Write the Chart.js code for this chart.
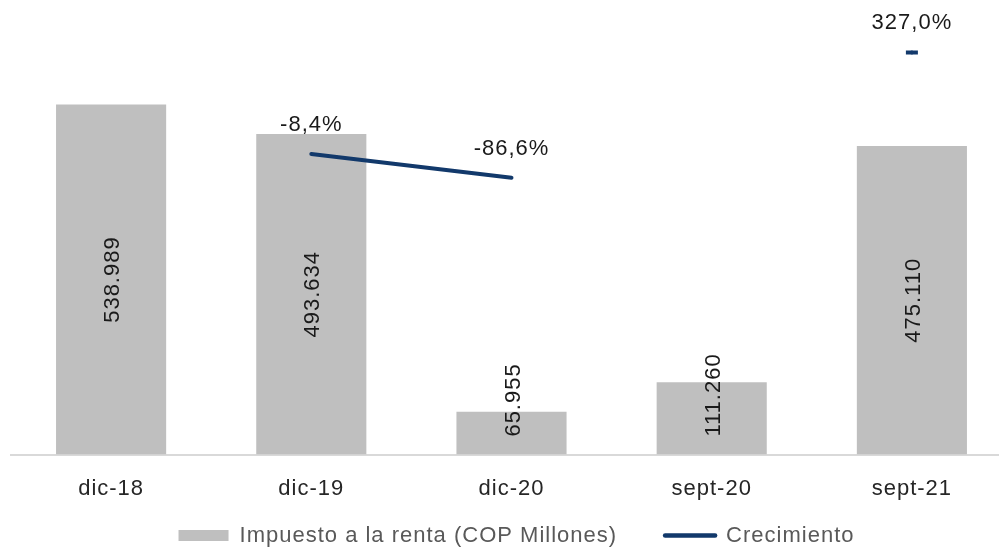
<!DOCTYPE html>
<html>
<head>
<meta charset="utf-8">
<script src="https://cdn.jsdelivr.net/npm/chart.js@4"></script>
<style>
  html, body { margin: 0; padding: 0; background: #fff; overflow: hidden; }
  #wrap { width: 1012px; height: 548px; }
  #chart { display: block; }
</style>
</head>
<body>
<div id="wrap"><canvas id="chart" width="1012" height="548"></canvas></div>
<script>
// periods and series
const periods = ["dic-18", "dic-19", "dic-20", "sept-20", "sept-21"];
const impuesto = [538989, 493634, 65955, 111260, 475110];
const crecimiento = [null, -8.4, -86.6, null, 327.0];
const seriesNames = ["Impuesto a la renta (COP Millones)", "Crecimiento"];

const barColor = "#bfbfbf";
const lineColor = "#12396b";
const fontFamily = "'Liberation Sans', Arial, sans-serif";

// number formats with dot for thousands and comma for decimals
function fmtMiles(v) {
  return String(v).replace(/\B(?=(\d{3})+(?!\d))/g, ".");
}
function fmtPct(v) {
  return v.toFixed(1).replace(".", ",") + "%";
}

// a bit of letter spacing on every text drawn on the canvas
const spacingPlugin = {
  id: "spacing",
  beforeLayout(chart) { chart.ctx.letterSpacing = "1px"; },
  beforeDraw(chart) { chart.ctx.letterSpacing = "1px"; },
  // legend sits closer to the axis labels than its item padding would put it
  afterLayout(chart) {
    const lg = chart.legend;
    const h = lg.bottom - lg.top;
    lg.top = chart.chartArea.bottom + 22;
    lg.bottom = lg.top + h;
    lg.left += 5;
    lg.right += 5;
  }
};

// value labels: rotated inside the bars, above the growth points
const labelsPlugin = {
  id: "valueLabels",
  afterDatasetsDraw(chart) {
    const ctx = chart.ctx;
    ctx.save();
    ctx.font = "22px " + fontFamily;
    ctx.fillStyle = "#1a1a1a";
    ctx.textAlign = "center";
    ctx.textBaseline = "middle";

    chart.getDatasetMeta(0).data.forEach((bar, i) => {
      const text = fmtMiles(impuesto[i]);
      const w = ctx.measureText(text).width;
      const cy = Math.min((bar.y + bar.base) / 2, bar.base - w / 2 - 18);
      ctx.save();
      ctx.translate(bar.x, cy);
      ctx.rotate(-Math.PI / 2);
      ctx.fillText(text, 0, 2);
      ctx.restore();
    });

    chart.getDatasetMeta(1).data.forEach((pt, i) => {
      if (crecimiento[i] === null) return;
      ctx.fillText(fmtPct(crecimiento[i]), pt.x, pt.y - 29);
    });
    ctx.restore();
  }
};

new Chart(document.getElementById("chart"), {
  data: {
    labels: periods,
    datasets: [
      {
        type: "bar",
        label: seriesNames[0],
        data: impuesto,
        backgroundColor: barColor,
        categoryPercentage: 0.55,
        barPercentage: 1,
        yAxisID: "y",
        order: 2
      },
      {
        type: "line",
        label: seriesNames[1],
        data: crecimiento,
        borderColor: lineColor,
        backgroundColor: lineColor,
        borderWidth: 4,
        borderCapStyle: "round",
        spanGaps: false,
        pointStyle: "line",
        pointRadius: ctx => (ctx.dataIndex === 4 ? 6 : 0),
        pointBorderWidth: 4,
        pointBorderColor: lineColor,
        yAxisID: "y2",
        order: 1
      }
    ]
  },
  options: {
    responsive: false,
    animation: false,
    layout: { autoPadding: false, padding: { left: 11, right: 0, top: 0, bottom: -55 } },
    scales: {
      x: {
        grid: { display: false, drawTicks: false },
        border: { display: true, color: "#d9d9d9", width: 2 },
        ticks: {
          color: "#262626",
          padding: 21,
          maxRotation: 0,
          font: { family: fontFamily, size: 22 }
        }
      },
      y: { display: false, min: 0, max: 700000 },
      y2: { display: false, min: -1000, max: 500, position: "right" }
    },
    plugins: {
      tooltip: { enabled: false },
      legend: {
        position: "bottom",
        labels: {
          color: "#595959",
          font: { family: fontFamily, size: 22 },
          usePointStyle: true,
          pointStyleWidth: 50,
          boxWidth: 50,
          boxHeight: 11,
          padding: 48,
          generateLabels: () => [
            { text: seriesNames[0], fillStyle: barColor, strokeStyle: barColor, lineWidth: 0,
              pointStyle: "rect", datasetIndex: 0, hidden: false, fontColor: "#595959" },
            { text: seriesNames[1], fillStyle: lineColor, strokeStyle: lineColor, lineWidth: 4.5,
              lineCap: "round", pointStyle: "line", datasetIndex: 1, hidden: false, fontColor: "#595959" }
          ]
        }
      }
    }
  },
  plugins: [spacingPlugin, labelsPlugin]
});
</script>
</body>
</html>
